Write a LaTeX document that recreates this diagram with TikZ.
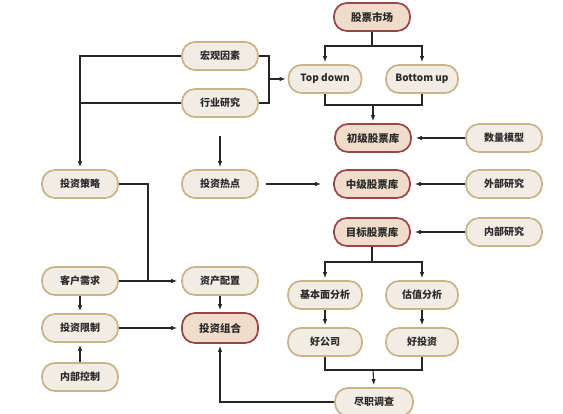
\documentclass[tikz,border=0pt]{standalone}
\usepackage{fontspec}
\setmainfont{Noto Sans CJK SC}
\usetikzlibrary{arrows.meta}
\definecolor{nfill}{HTML}{F2EDE4}
\definecolor{ndraw}{HTML}{C9B48A}
\definecolor{rfill}{HTML}{EFDCCB}
\definecolor{rdraw}{HTML}{9A4646}
\definecolor{txt}{HTML}{2B2B2B}
\begin{document}
\begin{tikzpicture}[x=1pt,y=-1pt,
  box/.style={draw=ndraw,fill=nfill,line width=1.7pt,rounded corners=13pt,
    minimum width=76pt,minimum height=28pt,inner sep=0pt,text=txt,
    font=\fontsize{10}{12}\selectfont\bfseries},
  rbox/.style={box,draw=rdraw,fill=rfill,font=\fontsize{10.5}{12}\selectfont\bfseries},
  ebox/.style={box},
  ln/.style={line width=1.1pt,draw=black!85},
  arr/.style={ln,-{Latex[length=6pt,width=4.5pt]},shorten >=2pt}]
\useasboundingbox (0,0) rectangle (563,413);
\fill[white] (0,0) rectangle (563,413);
% nodes
\node[rbox] (mkt) at (372,17) {股票市场};
\node[box] (hg) at (220,56) {宏观因素};
\node[box] (hy) at (220,103) {行业研究};
\node[ebox,minimum width=73pt] (td) at (325,79) {Top down};
\node[ebox,minimum width=72pt] (bu) at (422,79) {Bottom up};
\node[rbox] (cj) at (373,138) {初级股票库};
\node[box] (sl) at (504,138) {数量模型};
\node[box] (cl) at (80,184) {投资策略};
\node[box] (rd) at (220,184) {投资热点};
\node[rbox] (zj) at (372,184) {中级股票库};
\node[box] (wb) at (504,184) {外部研究};
\node[rbox] (mb) at (372,232) {目标股票库};
\node[box] (nb) at (504,232) {内部研究};
\node[box,minimum width=74pt] (jb) at (325,295) {基本面分析};
\node[box,minimum width=72pt] (gz) at (422,295) {估值分析};
\node[box,minimum width=74pt] (hgs) at (325,342) {好公司};
\node[box,minimum width=72pt] (htz) at (422,342) {好投资};
\node[box,minimum width=78pt] (jd) at (374,402) {尽职调查};
\node[box] (kh) at (80,281) {客户需求};
\node[box] (xz) at (80,328) {投资限制};
\node[box] (nk) at (80,377) {内部控制};
\node[box] (zc) at (220,281) {资产配置};
\node[rbox,minimum height=30pt] (zh) at (220,328) {投资组合};
% junctions
\coordinate (j1) at (372,46);
\coordinate (j2) at (373,105);
\coordinate (j3) at (269,79);
\coordinate (j4) at (372,262);
\coordinate (j5) at (373,370);
\coordinate (j6) at (148,281);
% connectors
\draw[ln] (mkt.south) -- (j1);
\draw[arr] (j1) -| (td.north);
\draw[arr] (j1) -| (bu.north);
\draw[ln] (td.south) |- (j2) -| (bu.south);
\draw[arr] (j2) -- (cj.north);
\draw[ln] (hg.east) -| (j3) |- (hy.east);
\draw[arr] (j3) -- (td.west);
\draw[arr] (hg.west) -| (cl.north);
\draw[ln] (hy.west) -- (hy.west -| cl.north);
\draw[arr,shorten <=18pt] (hy.south) -- (rd.north);
\draw[arr,shorten <=7pt,shorten >=12pt] (rd.east) -- (zj.west);
\draw[arr,shorten >=4pt] (sl.west) -- (cj.east);
\draw[arr,shorten >=4pt] (wb.west) -- (zj.east);
\draw[arr,shorten >=4pt] (nb.west) -- (mb.east);
\draw[ln] (mb.south) -- (j4);
\draw[arr] (j4) -| (jb.north);
\draw[arr] (j4) -| (gz.north);
\draw[arr] (jb.south) -- (hgs.north);
\draw[arr] (gz.south) -- (htz.north);
\draw[ln] (hgs.south) |- (j5) -| (htz.south);
\draw[arr] (j5) -- (jd.north);
\draw[arr] (jd.west) -| (zh.south);
\draw[ln] (cl.east) -| (j6);
\draw[arr,shorten >=4pt] (kh.east) -- (zc.west);
\draw[arr] (zc.south) -- (zh.north);
\draw[arr,shorten >=4pt] (xz.east) -- (zh.west);
\draw[arr] (kh.south) -- (xz.north);
\draw[arr] (nk.north) -- (xz.south);
\end{tikzpicture}
\end{document}
